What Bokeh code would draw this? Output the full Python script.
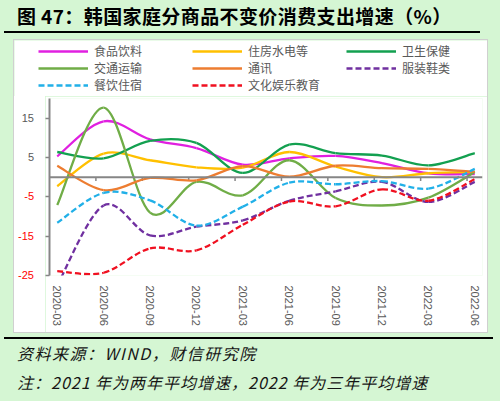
from bokeh.plotting import figure
from bokeh.models import (Range1d, FixedTicker, Span, Legend, LegendItem,
                          ColumnDataSource, Div, GlobalInlineStyleSheet)
from bokeh.layouts import column, row
from bokeh.embed import file_html
from bokeh.resources import INLINE

# ---------------- data ----------------
quarters = ["2020-03", "2020-06", "2020-09", "2020-12", "2021-03",
            "2021-06", "2021-09", "2021-12", "2022-03", "2022-06"]

food      = [5.3, 14.2, 9.6, 7.4, 3.2, 4.8, 5.4, 3.6, 1.0, 0.8]
housing   = [-2.3, 6.0, 4.3, 2.5, 2.4, 6.4, 2.7, 0.0, 1.0, 1.3]
health    = [6.4, 4.8, 9.2, 8.7, 1.1, 8.3, 6.1, 5.5, 3.0, 6.1]
transport = [-7.1, 17.7, -9.0, -1.2, -4.6, 4.3, -5.3, -7.2, -5.2, 1.3]
comm      = [2.9, -3.3, -0.2, -0.8, 2.8, 0.1, 2.9, 2.3, 2.1, 1.4]
clothing  = [-27.5, -7.2, -14.8, -12.6, -11.0, -6.0, -3.6, -1.2, -6.3, -1.2]
dining    = [-11.6, -4.0, -5.9, -12.3, -7.5, -1.4, -1.8, -1.0, -2.9, 2.1]
culture   = [-23.9, -24.3, -18.1, -18.6, -12.1, -6.2, -7.4, -3.1, -6.0, -0.5]

names  = ["食品饮料", "住房水电等", "卫生保健", "交通运输", "通讯", "服装鞋类", "餐饮住宿", "文化娱乐教育"]
values = [food, housing, health, transport, comm, clothing, dining, culture]
colors = ["#E020E0", "#FFC000", "#13A050", "#70AD47", "#ED7D31", "#7030A0", "#21B0E8", "#F01020"]
dashes = ["solid", "solid", "solid", "solid", "solid", "6 3", "6 3", "6 3"]

y_ticks = [-25, -15, -5, 5, 15]
y_tick_colors = ["#FF0000" if t < 0 else "#595959" for t in y_ticks]

BG = "#d5f6d3"
AX = "#868686"

Y_MIN, Y_MAX = -25, 20
BORDER_TOP = 2
FRAME_H = 177          # plot-area height in pixels

# quarter positions on a monthly axis
x_pos = [3 * i for i in range(len(quarters))]
tick_x = [3 * i - 0.5 for i in range(1, len(quarters))]


def smooth_source(xs, ys):
    n = len(xs)
    d = dict(x0=[], y0=[], x1=[], y1=[], cx0=[], cy0=[], cx1=[], cy1=[])
    for i in range(n - 1):
        a = max(i - 1, 0)
        b = i
        c = i + 1
        e = min(i + 2, n - 1)
        d["x0"].append(xs[b]); d["y0"].append(ys[b])
        d["x1"].append(xs[c]); d["y1"].append(ys[c])
        d["cx0"].append(xs[b] + (xs[c] - xs[a]) / 6.0)
        d["cy0"].append(ys[b] + (ys[c] - ys[a]) / 6.0)
        d["cx1"].append(xs[c] - (xs[e] - xs[b]) / 6.0)
        d["cy1"].append(ys[c] - (ys[e] - ys[b]) / 6.0)
    return ColumnDataSource(d)


# ---------------- main chart ----------------
p = figure(width=442, height=236, x_range=Range1d(-0.5, 27.5), y_range=Range1d(Y_MIN, Y_MAX),
           output_backend="svg", toolbar_location=None,
           min_border_left=4, min_border_right=5, min_border_top=BORDER_TOP,
           min_border_bottom=236 - BORDER_TOP - FRAME_H,
           background_fill_color="white", border_fill_color="white", outline_line_color=None)
p.grid.visible = False

p.xaxis.ticker = FixedTicker(ticks=x_pos)
p.xaxis.major_label_overrides = {x: q for x, q in zip(x_pos, quarters)}
p.xaxis.axis_line_color = None
p.xaxis.major_tick_line_color = None
p.xaxis.minor_tick_line_color = None
p.xaxis.major_tick_out = 0
p.xaxis.major_tick_in = 0
p.xaxis.major_label_standoff = 10
p.xaxis.major_label_orientation = "vertical"
p.xaxis.major_label_text_font = "Liberation Sans"
p.xaxis.major_label_text_font_size = "11px"
p.xaxis.major_label_text_color = "#595959"

p.yaxis.ticker = FixedTicker(ticks=y_ticks)
p.yaxis.axis_line_color = AX
p.yaxis.axis_line_width = 2
p.yaxis.major_tick_line_color = AX
p.yaxis.major_tick_line_width = 1.5
p.yaxis.major_tick_out = 4
p.yaxis.major_tick_in = 0
p.yaxis.minor_tick_line_color = None
p.yaxis.major_label_standoff = 0
p.yaxis.major_label_text_font_size = "0px"
p.yaxis.major_label_text_color = None

p.add_layout(Span(location=0, dimension="width", line_color=AX, line_width=2))
p.segment(x0=tick_x, y0=[0] * len(tick_x), x1=tick_x, y1=[-1.0] * len(tick_x),
          line_color=AX, line_width=1.5)

for vals, col, dash in zip(values, colors, dashes):
    p.bezier(x0="x0", y0="y0", x1="x1", y1="y1", cx0="cx0", cy0="cy0", cx1="cx1", cy1="cy1",
             source=smooth_source(x_pos, vals), line_color=col, line_width=2.3, line_dash=dash)

# ---------------- y tick labels (HTML strip so each label can have its own colour) ----------------
spans = []
for t, c in zip(y_ticks, y_tick_colors):
    cy = BORDER_TOP + (Y_MAX - t) * FRAME_H / (Y_MAX - Y_MIN)
    spans.append(
        '<div style="position:absolute;right:11px;top:%.1fpx;height:14px;line-height:14px;'
        'font-family:\'Liberation Sans\';font-size:11px;color:%s;">%s</div>' % (cy - 7, c, t))
yf = Div(text='<div style="position:relative;width:31px;height:236px;background:#fff;">%s</div>'
         % "".join(spans), width=31, height=236, margin=(0, 0, 0, 0))

# ---------------- legend strip ----------------
pl = figure(width=473, height=56, x_range=Range1d(1000, 1001), y_range=Range1d(1000, 1001),
            output_backend="svg", toolbar_location=None, min_border=0,
            x_axis_location=None, y_axis_location=None, outline_line_color=None,
            background_fill_color="white", border_fill_color="white")
pl.grid.visible = False
items = []
for name, vals, col, dash in zip(names, values, colors, dashes):
    r = pl.line(x=x_pos, y=vals, line_color=col, line_width=2.5, line_dash=dash)
    items.append(LegendItem(label=name, renderers=[r]))
leg = Legend(items=items, location=(24, 3), orientation="horizontal", ncols=3,
             glyph_width=50, glyph_height=16, label_height=16, label_width=98,
             label_standoff=6, spacing=0, padding=0, margin=0,
             border_line_color=None, background_fill_alpha=0,
             label_text_font_size="12px", label_text_color="#595959",
             label_text_font="Noto Sans CJK SC")
pl.add_layout(leg)

# ---------------- title / footer ----------------
title = Div(text=(
    '<div style="font-family:\'Noto Sans CJK SC\';font-weight:bold;font-size:19px;'
    'line-height:20px;color:#000;margin-left:4px;padding-left:13px;padding-top:6px;'
    'padding-bottom:5px;width:476px;border-bottom:2.5px solid #000;white-space:nowrap;'
    'letter-spacing:0.4px;">'
    '图 47：韩国家庭分商品不变价消费支出增速（%）</div>'),
    width=500, height=40, margin=(0, 0, 0, 0))

footer = Div(text=(
    '<div style="margin-top:5px;margin-left:4px;border-top:2.5px solid #000;'
    'width:489px;font-family:\'Noto Sans CJK SC\';font-style:italic;font-size:16px;'
    'color:#151515;white-space:nowrap;">'
    '<div style="padding-left:13px;line-height:28px;letter-spacing:1.5px;">资料来源：WIND，财信研究院</div>'
    '<div style="padding-left:13px;line-height:30px;letter-spacing:1.0px;">注：2021 年为两年平均增速，2022 年为三年平均增速</div>'
    '</div>'),
    width=500, height=69, margin=(0, 0, 0, 0))

box = column(pl, row(yf, p, spacing=0), spacing=0, margin=(0, 0, 0, 14),
             styles={"outline": "1px solid #d0d0d0"})

root = column(title, box, footer, width=500, spacing=0,
              styles={"background-color": BG},
              stylesheets=[GlobalInlineStyleSheet(css="html,body{background-color:%s;}" % BG)])

open("out.html", "w").write(file_html(root, INLINE))
